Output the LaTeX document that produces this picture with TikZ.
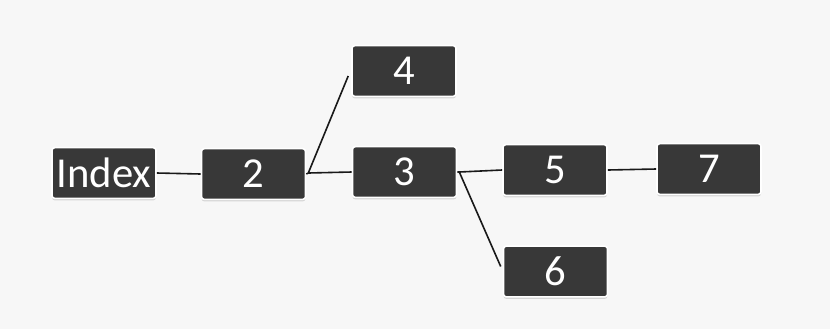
\documentclass[tikz,border=0pt]{standalone}
\usepackage{fontspec}
\setmainfont{Carlito}
\usetikzlibrary{calc,shadows}
\definecolor{boxfill}{HTML}{383838}
\definecolor{bgcol}{HTML}{F7F7F7}
\tikzset{
  bx/.style={draw=white, line width=1.2pt, fill=boxfill, rounded corners=2pt,
    text=white, font=\fontsize{32}{32}\selectfont, minimum width=78pt, minimum height=38pt,
    inner sep=0pt, drop shadow={shadow xshift=0pt, shadow yshift=-1.5pt, fill=black!25, opacity=0.6}},
  link/.style={draw=black!90, line width=1.2pt}
}
\begin{document}
\begin{tikzpicture}[x=0.75pt,y=-0.75pt]
\fill[bgcol] (0,0) rectangle (830,329);
\useasboundingbox (0,0) rectangle (830,329);
\node[bx] (idx) at (104,173) {Index};
\node[bx] (n2) at (253.5,174) {2};
\node[bx] (n4) at (404,71) {4};
\node[bx] (n3) at (404.5,172) {3};
\node[bx] (n5) at (555,170) {5};
\node[bx] (n7) at (709,169) {7};
\node[bx] (n6) at (555.5,271.5) {6};
\coordinate (b1) at ($(n2.east)+(2,-1)$);
\coordinate (b2) at ($(n3.east)+(2,0)$);
\draw[link] (idx.east) -- (n2.west);
\draw[link] (n2.east) -- (b1) -- ($(n4.west)+(-3,5)$);
\draw[link] (b1) -- (n3.west);
\draw[link] (n3.east) -- (b2) -- (n5.west);
\draw[link] (b2) -- ($(n6.west)+(-2,-5)$);
\draw[link] (n5.east) -- (n7.west);
\end{tikzpicture}
\end{document}
